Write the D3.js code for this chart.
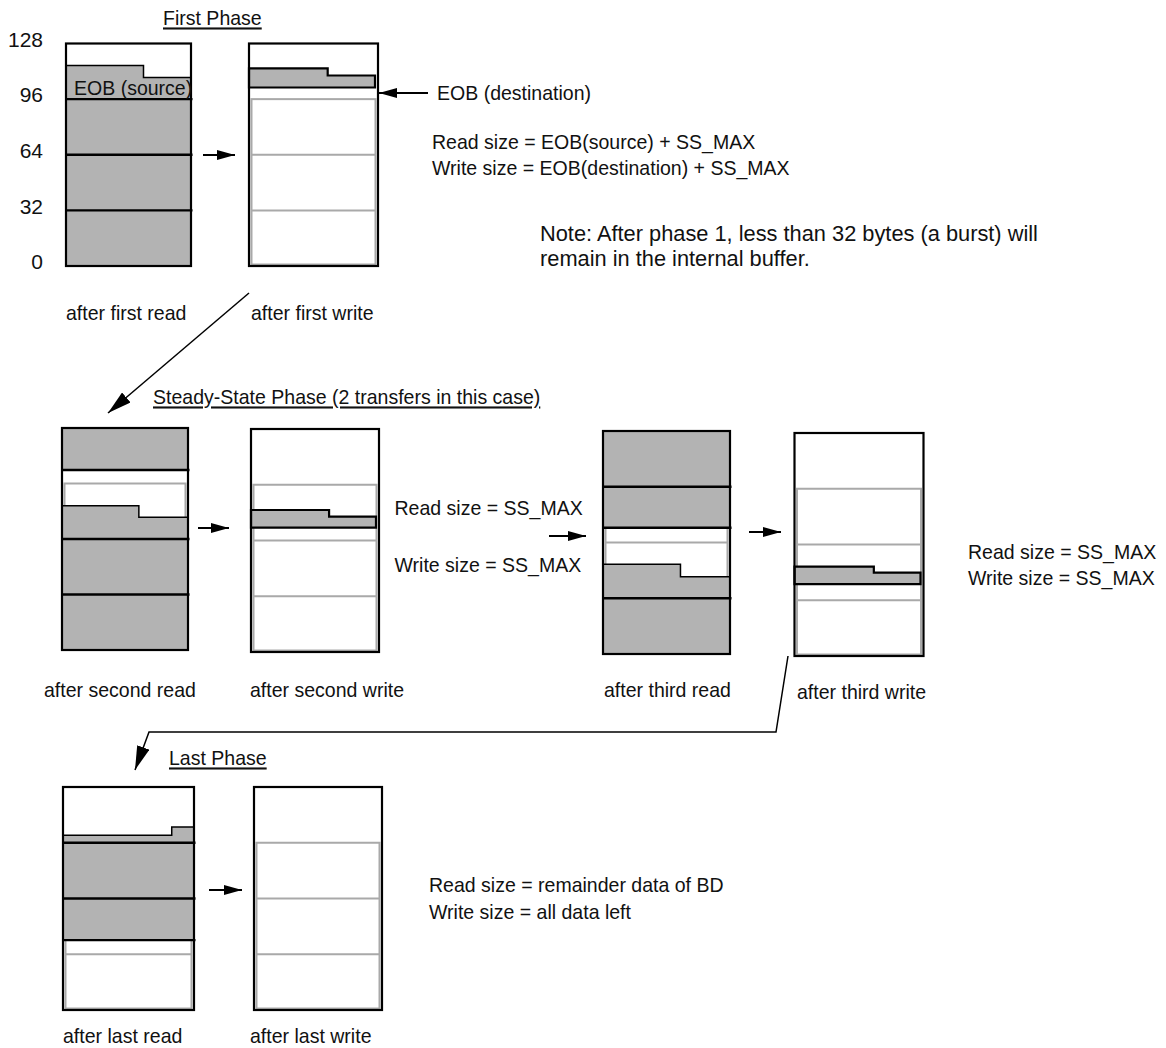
<!DOCTYPE html>
<html>
<head>
<meta charset="utf-8">
<script src="https://d3js.org/d3.v7.min.js"></script>
<style>
body { margin: 0; background: #fff; }
svg { display: block; }
text { font-family: "Liberation Sans", Arial, Helvetica, sans-serif; fill: #111; }
</style>
</head>
<body>
<script>
// 128 byte internal buffer, bursts of 32 bytes
var bufferTicks = [0, 32, 64, 96, 128];
var emptyLines = [32, 64];
var emptyTop = 96;

var panelLabels = ["after first read", "after first write",
                   "after second read", "after second write",
                   "after third read", "after third write",
                   "after last read", "after last write"];

// filled data per panel: [bottom, top left, top right, where the step is (0..1)]
var fillSegments = [
  [[0, 115.4, 108.5, 0.62]],
  [[102.7, 113.7, 109.6, 0.61]],
  [[103.8, 128, 128, 1], [0, 83.2, 76.5, 0.61]],
  [[71.4, 81.5, 77.7, 0.61]],
  [[72.5, 128, 128, 1], [0, 51.5, 44.4, 0.61]],
  [[41.2, 51.3, 47.8, 0.615]],
  [[40.1, 100.3, 105, 0.83]],
  []
];

// black burst boundaries drawn over the read buffers
var burstLines = [[32, 64, 96], [], [32, 64, 103.8], [], [32, 72.5, 96], [], [40.1, 64, 96], []];

var phaseTitles = ["First Phase", "Steady-State Phase (2 transfers in this case)", "Last Phase"];
var firstNotes = ["Read size = EOB(source) + SS_MAX", "Write size = EOB(destination) + SS_MAX"];
var noteLines = ["Note: After phase 1, less than 32 bytes (a burst) will",
                 "remain in the internal buffer."];
var steadyNotes = ["Read size = SS_MAX", "Write size = SS_MAX"];
var lastNotes = ["Read size = remainder data of BD", "Write size = all data left"];

// where each buffer sits on the page
var layout = [
  {x: 66, y: 43.5, w: 125, h: 222.5, lx: 66, ly: 313},
  {x: 249, y: 43.5, w: 129, h: 222.5, lx: 251, ly: 313},
  {x: 62, y: 428, w: 126, h: 222, lx: 44, ly: 690},
  {x: 251, y: 429, w: 128, h: 223, lx: 250, ly: 690},
  {x: 603, y: 431, w: 127, h: 223, lx: 604, ly: 690},
  {x: 794.5, y: 433, w: 129, h: 223, lx: 797, ly: 692},
  {x: 63, y: 787, w: 131, h: 223, lx: 63, ly: 1036},
  {x: 254, y: 787, w: 128, h: 223, lx: 250, ly: 1036}
];

var grayFill = "#b3b3b3", lightGray = "#a9a9a9";

var svg = d3.select("body").append("svg")
  .attr("width", 1166)
  .attr("height", 1048);

var defs = svg.append("defs");
function marker(id, len, wid) {
  defs.append("marker")
    .attr("id", id)
    .attr("markerUnits", "userSpaceOnUse")
    .attr("viewBox", "0 0 " + len + " " + wid)
    .attr("markerWidth", len)
    .attr("markerHeight", wid)
    .attr("refX", len)
    .attr("refY", wid / 2)
    .attr("orient", "auto")
    .append("path")
    .attr("d", "M0,0L" + len + "," + (wid / 2) + "L0," + wid + "Z")
    .attr("fill", "#000");
}
marker("small", 18, 10);
marker("big", 24, 13);

function label(x, y, s, size) {
  return svg.append("text")
    .attr("transform", "translate(" + x + "," + y + ") scale(0.93,1)")
    .attr("dy", "0.35em")
    .style("font-size", (size || 21) + "px")
    .text(s);
}

function arrow(points, head, width) {
  svg.append("path")
    .attr("d", d3.line()(points))
    .attr("fill", "none")
    .attr("stroke", "#000")
    .attr("stroke-width", width)
    .attr("marker-end", "url(#" + head + ")");
}

layout.forEach(function(p, i) {
  var y = d3.scaleLinear().domain([0, 128]).range([p.y + p.h, p.y]);
  var isWrite = i % 2 === 1;
  var g = svg.append("g");

  // empty buffer outline (light gray)
  g.append("rect")
    .attr("x", p.x + 2.5)
    .attr("y", y(emptyTop))
    .attr("width", p.w - 5)
    .attr("height", y(0) - y(emptyTop) - 1.5)
    .attr("fill", "none")
    .attr("stroke", lightGray)
    .attr("stroke-width", 2);

  g.selectAll("line.light")
    .data(emptyLines)
    .enter().append("line")
    .attr("x1", p.x + 2)
    .attr("x2", p.x + p.w - 2)
    .attr("y1", function(d) { return y(d); })
    .attr("y2", function(d) { return y(d); })
    .attr("stroke", lightGray)
    .attr("stroke-width", 2);

  // data held in the buffer
  g.selectAll("path.fill")
    .data(fillSegments[i])
    .enter().append("path")
    .attr("d", function(d) {
      var x0 = p.x, x1 = p.x + p.w - (isWrite ? 3 : 0), xs = p.x + d[3] * p.w;
      return "M" + x0 + "," + y(d[0]) +
        "L" + x0 + "," + y(d[1]) +
        "L" + xs + "," + y(d[1]) +
        "L" + xs + "," + y(d[2]) +
        "L" + x1 + "," + y(d[2]) +
        "L" + x1 + "," + y(d[0]) + "Z";
    })
    .attr("fill", grayFill)
    .attr("stroke", "#000")
    .attr("stroke-width", isWrite ? 2.2 : 1.5);

  g.selectAll("line.dark")
    .data(burstLines[i])
    .enter().append("line")
    .attr("x1", p.x)
    .attr("x2", p.x + p.w + 1.5)
    .attr("y1", function(d) { return y(d); })
    .attr("y2", function(d) { return y(d); })
    .attr("stroke", "#000")
    .attr("stroke-width", 2.4);

  g.append("rect")
    .attr("x", p.x)
    .attr("y", p.y)
    .attr("width", p.w)
    .attr("height", p.h)
    .attr("fill", "none")
    .attr("stroke", "#000")
    .attr("stroke-width", 2.2);

  label(p.lx, p.ly, panelLabels[i]);

  if (i === 0) {
    var axis = svg.append("g")
      .attr("transform", "translate(" + p.x + ",-4)")
      .call(d3.axisLeft(y).tickValues(bufferTicks).tickSize(0).tickPadding(23));
    axis.select(".domain").remove();
    axis.selectAll("text")
      .style("font-size", "21px")
      .attr("font-family", null);
  }
});

// phase titles
label(163, 18, phaseTitles[0]).style("text-decoration", "underline");
label(153, 397, phaseTitles[1]).style("text-decoration", "underline");
label(169, 758, phaseTitles[2]).style("text-decoration", "underline");

label(74, 88, "EOB (source)");
label(437, 93, "EOB (destination)");
arrow([[428, 93], [379, 93]], "small", 2);

label(432, 142, firstNotes[0]);
label(432, 168, firstNotes[1]);
svg.selectAll("text.note")
  .data(noteLines)
  .enter().append("text")
  .attr("x", 540)
  .attr("y", function(d, i) { return 233 + i * 25; })
  .attr("dy", "0.35em")
  .style("font-size", "21.8px")
  .text(function(d) { return d; });

label(394.5, 508, steadyNotes[0]);
label(394.5, 565, steadyNotes[1]);
label(968, 552, steadyNotes[0]);
label(968, 578, steadyNotes[1]);
label(429, 885, lastNotes[0]);
label(429, 912, lastNotes[1]);

// arrows between buffers
arrow([[203, 155], [235, 155]], "small", 2);
arrow([[198, 528], [229, 528]], "small", 2);
arrow([[549, 536], [586, 536]], "small", 2);
arrow([[749, 532], [781, 532]], "small", 2);
arrow([[209, 890], [242, 890]], "small", 2);

// arrows between phases
arrow([[249, 293], [108, 413]], "big", 1.5);
arrow([[788, 656], [776, 732], [149, 732], [135, 770]], "big", 1.5);
</script>
</body>
</html>
